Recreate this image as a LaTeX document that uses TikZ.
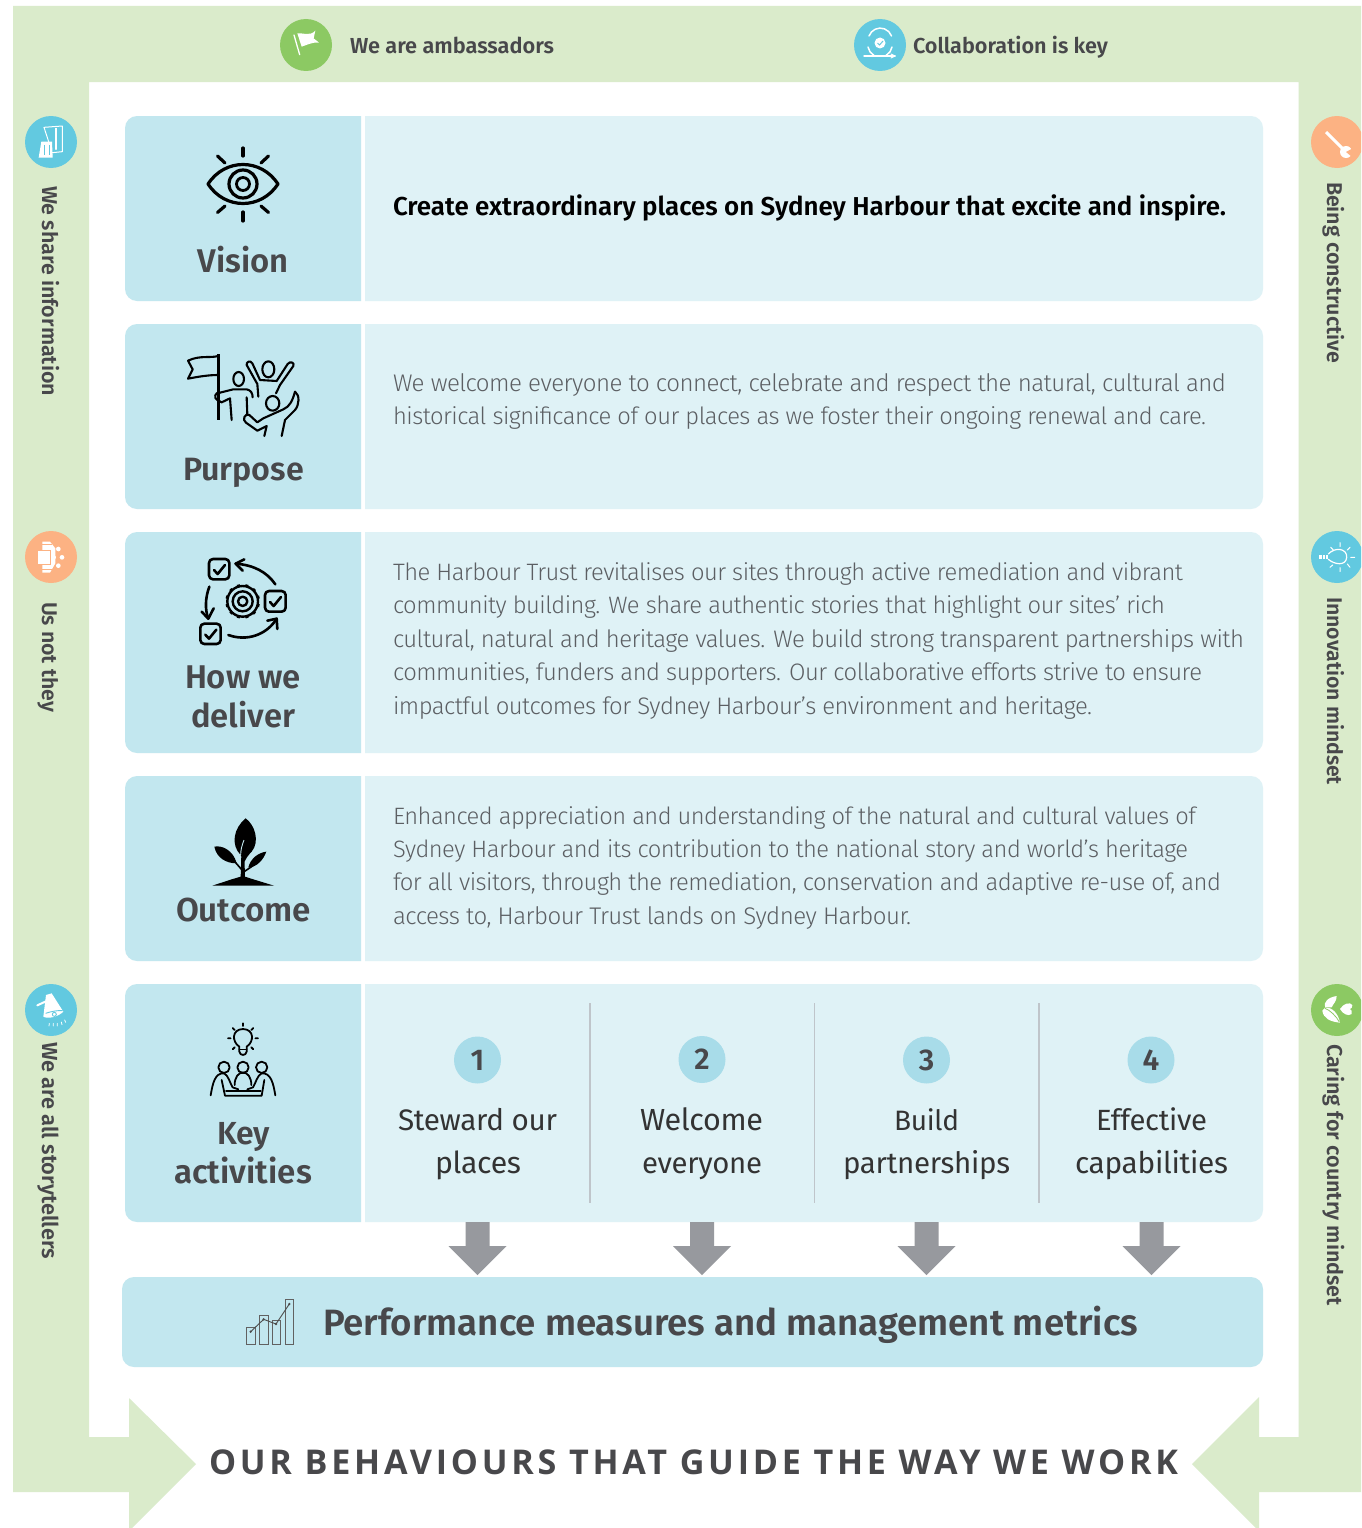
\documentclass[tikz,border=0pt]{standalone}
\usepackage{fontspec}
\usepackage{graphicx}
\setmainfont{Fira Sans}
\newfontfamily\bodyf[UprightFont=* Light,BoldFont=* Medium,LetterSpace=-2.2]{Fira Sans}
\newfontfamily\actf[LetterSpace=-1]{Fira Sans}
\newfontfamily\headf[UprightFont=* Medium,BoldFont=* SemiBold]{Fira Sans}
\newfontfamily\bannerf[LetterSpace=11]{Open Sans}
\definecolor{framegreen}{HTML}{DAEBCB}
\definecolor{carddark}{HTML}{C2E7EF}
\definecolor{cardlight}{HTML}{DFF2F6}
\definecolor{inkgrey}{HTML}{48484B}
\definecolor{bodygrey}{HTML}{5C5F63}
\definecolor{arrowgrey}{HTML}{97999E}
\definecolor{rulegrey}{HTML}{BFC5CA}
\definecolor{numcircle}{HTML}{A8DCE9}
\definecolor{iconblue}{HTML}{62C9E0}
\definecolor{icongreen}{HTML}{8CC963}
\definecolor{iconorange}{HTML}{FCB283}
\newcommand{\fitw}[2]{\resizebox{#1pt}{!}{\strut #2}}
\newcommand{\cardrow}[2]{%
  \fill[carddark] (361,#1) [rounded corners=12pt] -- (125,#1) -- (125,#2) [sharp corners] -- (361,#2) -- cycle;
  \fill[cardlight] (365,#1) [rounded corners=12pt] -- (1263,#1) -- (1263,#2) [sharp corners] -- (365,#2) -- cycle;}
\tikzset{
  txt/.style={inner sep=0pt,outer sep=0pt,anchor=base west},
  bodyline/.style={txt,text=bodygrey,font=\bodyf\fontsize{24}{24}\selectfont},
  headline/.style={txt,text=inkgrey,font=\headf\bfseries\fontsize{30}{30}\selectfont},
  actline/.style={txt,text=black!80,font=\actf\fontsize{28}{28}\selectfont},
  tagline/.style={txt,text=inkgrey,font=\headf\bfseries\fontsize{20}{20}\selectfont},
  numline/.style={inner sep=0pt,text=inkgrey,font=\headf\bfseries\fontsize{30}{30}\selectfont},
  badge/.style={circle,minimum size=52pt,inner sep=0pt,fill=#1},
  z3/.style={shift={(#1)},scale=0.33333},
  ic/.style={draw=black,line width=#1,line cap=round,line join=round},
  ic/.default=2pt,
  wic/.style={draw=white,line width=#1,line cap=round,line join=round},
  wic/.default=1.2pt
}
\begin{document}
\begin{tikzpicture}[x=1pt,y=-1pt]
\clip (0,0) rectangle (1361,1528);
\fill[white] (0,0) rectangle (1361,1528);
% frame with arrows
\fill[framegreen] (13,6) -- (1361,6) -- (1361,1492) -- (1259,1492) -- (1259,1531) -- (1192,1464) -- (1259,1397) -- (1259,1437) -- (1298.5,1437) -- (1298.5,82) -- (89,82) -- (89,1437) -- (129,1437) -- (129,1398) -- (196,1464) -- (129,1531) -- (129,1492) -- (13,1492) -- cycle;
% cards
\cardrow{116}{301}
\cardrow{324}{509}
\cardrow{532}{753}
\cardrow{776}{961}
\cardrow{984}{1222}
\fill[carddark,rounded corners=12pt] (122,1277) rectangle (1263,1367);
% card headings
\node[headline] (hv) at (197.5,272) {\fitw{91}{Vision}};
\node[headline] (hp) at (183,480) {\fitw{121}{Purpose}};
\node[headline] (hh1) at (185,688) {\fitw{116}{How we}};
\node[headline] (hh2) at (191,727) {\fitw{104}{deliver}};
\node[headline] (ho) at (176,921) {\fitw{135}{Outcome}};
\node[headline] (hk1) at (217,1144) {\fitw{53}{Key}};
\node[headline] (hk2) at (174,1183) {\fitw{138}{activities}};
% vision text
\node[txt,text=black,font=\headf\bfseries\fontsize{24}{24}\selectfont] (vt) at (393,215.5) {\fitw{833}{Create extraordinary places on Sydney Harbour that excite and inspire.}};
% purpose text
\node[bodyline] (p1) at (393,391) {\fitw{833}{We welcome everyone to connect, celebrate and respect the natural, cultural and}};
\node[bodyline] (p2) at (393,424) {\fitw{813}{historical significance of our places as we foster their ongoing renewal and care.}};
% how text
\node[bodyline] (h1) at (393,580) {\fitw{790}{The Harbour Trust revitalises our sites through active remediation and vibrant}};
\node[bodyline] (h2) at (393,613.5) {\fitw{772}{community building. We share authentic stories that highlight our sites’ rich}};
\node[bodyline] (h3) at (393,647) {\fitw{851}{cultural, natural and heritage values. We build strong transparent partnerships with}};
\node[bodyline] (h4) at (393,680) {\fitw{809}{communities, funders and supporters. Our collaborative efforts strive to ensure}};
\node[bodyline] (h5) at (393,714) {\fitw{699}{impactful outcomes for Sydney Harbour’s environment and heritage.}};
% outcome text
\node[bodyline] (o1) at (393,824) {\fitw{803}{Enhanced appreciation and understanding of the natural and cultural values of}};
\node[bodyline] (o2) at (393,857) {\fitw{795}{Sydney Harbour and its contribution to the national story and world’s heritage}};
\node[bodyline] (o3) at (393,890) {\fitw{828}{for all visitors, through the remediation, conservation and adaptive re-use of, and}};
\node[bodyline] (o4) at (393,924) {\fitw{518}{access to, Harbour Trust lands on Sydney Harbour.}};
% dividers
\foreach \x in {590,814.5,1039}{\draw[rulegrey,line width=1.5pt] (\x,1003) -- (\x,1203);}
% numbers
\node[circle,minimum size=47pt,inner sep=0pt,fill=numcircle] (n1) at (477.5,1060) {};
\node[circle,minimum size=47pt,inner sep=0pt,fill=numcircle] (n2) at (702,1059.5) {};
\node[circle,minimum size=47pt,inner sep=0pt,fill=numcircle] (n3) at (926.5,1060) {};
\node[circle,minimum size=47pt,inner sep=0pt,fill=numcircle] (n4) at (1151,1060) {};
\node[numline] at (n1) {1};
\node[numline] at (n2) {2};
\node[numline] at (n3) {3};
\node[numline] at (n4) {4};
% activities
\node[actline] (a1) at (398,1130) {\fitw{159}{Steward our}};
\node[actline] (a2) at (435,1173) {\fitw{86}{places}};
\node[actline] (a3) at (640,1130) {\fitw{123}{Welcome}};
\node[actline] (a4) at (642,1173) {\fitw{120}{everyone}};
\node[actline] (a5) at (894,1130) {\fitw{65}{Build}};
\node[actline] (a6) at (843,1173) {\fitw{167}{partnerships}};
\node[actline] (a7) at (1096,1130) {\fitw{111}{Effective}};
\node[actline] (a8) at (1075,1173) {\fitw{153}{capabilities}};
% down arrows
\foreach \x in {477.5,702,926.5,1151.5}{
  \fill[arrowgrey] (\x-12,1222) -- (\x+12,1222) -- (\x+12,1246) -- (\x+29,1246) -- (\x,1275) -- (\x-29,1246) -- (\x-12,1246) -- cycle;}
% metrics
\node[headline] (mt) at (323,1335) {\fitw{815}{Performance measures and management metrics}};
% banner
\node[txt,text=inkgrey,font=\bannerf\bfseries\fontsize{32}{32}\selectfont] (bn) at (209,1474) {\fitw{969}{OUR BEHAVIOURS THAT GUIDE THE WAY WE WORK}};
% top tags
\node[tagline] (t1) at (350,53.5) {\fitw{204}{We are ambassadors}};
\node[tagline] (t2) at (913,53.5) {\fitw{195}{Collaboration is key}};
% side tags
\node[tagline,rotate=-90] (l1) at (42,186) {\fitw{210}{We share information}};
\node[tagline,rotate=-90] (l2) at (42,602) {\fitw{110}{Us not they}};
\node[tagline,rotate=-90] (l3) at (42,1042) {\fitw{217}{We are all storytellers}};
\node[tagline,rotate=-90] (r1) at (1327,182) {\fitw{181}{Being constructive}};
\node[tagline,rotate=-90] (r2) at (1327,597) {\fitw{188}{Innovation mindset}};
\node[tagline,rotate=-90] (r3) at (1327,1044) {\fitw{262}{Caring for country mindset}};
% badges
\node[badge=icongreen] (b1) at (306,45) {};
\node[badge=iconblue] (b2) at (880,45) {};
\node[badge=iconblue] (b3) at (51,142) {};
\node[badge=iconorange] (b4) at (51,557) {};
\node[badge=iconblue] (b5) at (51,1010) {};
\node[badge=iconorange] (b6) at (1337,142) {};
\node[badge=iconblue] (b7) at (1337,557) {};
\node[badge=icongreen] (b8) at (1337,1010) {};
% --- white badge icons
% flag
\begin{scope}[z3={0,0}]
\draw[wic=1.3pt] (882,105) -- (899,164);
\fill[white] (892,100) .. controls (908,98) and (930,110) .. (946,92) -- (941,115) -- (957,128) .. controls (940,125) and (920,135) .. (905,140) -- cycle;
\end{scope}
% collaboration
\draw[wic=1.5pt] (869,36) arc[start angle=-160,end angle=-20,radius=12];
\draw[wic=1.5pt] (892,47) arc[start angle=10,end angle=60,radius=12];
\draw[wic=1.5pt] (868,47) arc[start angle=170,end angle=120,radius=12];
\fill[white] (880,43) circle[radius=5.5];
\draw[iconblue,line width=1pt] (877.5,43) -- (879.5,45) -- (883,41);
\draw[wic=1.5pt] (864,56) -- (895,56);
\draw[wic=1pt] (891,54) -- (895,56) -- (891,58);
% books
\begin{scope}[z3={0,0}]
\draw[wic=1pt] (132,382) -- (187,378) -- (187,455) -- (157,458);
\draw[wic=1pt] (132,382) -- (146,425);
\draw[wic=1.2pt] (168,385) -- (168,448);
\fill[white] (124,425) -- (156,425) -- (158,473) -- (116,473) -- cycle;
\draw[iconblue,line width=1pt] (135,435) -- (135,465) (148,435) -- (148,465);
\end{scope}
% team / stack icon
\begin{scope}[z3={0,520}]
\fill[white] (127,65) -- (150,65) -- (166,85) -- (166,130) -- (150,158) -- (127,158) -- cycle;
\fill[white] (114,92) rectangle (155,132);
\draw[iconorange,line width=0.9pt] (127,74) -- (155,74) (114,90) -- (152,90) (114,134) -- (152,134) (127,148) -- (155,148) (150,92) -- (150,132);
\fill[white] (175,87) circle[radius=7] (186,112) circle[radius=7] (175,137) circle[radius=7] (162,112) circle[radius=6];
\end{scope}
% megaphone
\begin{scope}[z3={0,970}]
\fill[white] (138,75) -- (155,70) -- (190,125) .. controls (175,140) and (145,148) .. (130,140) -- cycle;
\draw[wic=2pt] (112,106) -- (140,93);
\draw[iconblue,line width=0.9pt] (137,130) .. controls (150,125) and (175,120) .. (188,122);
\draw[iconblue,line width=0.9pt] (163,133) circle[radius=6];
\draw[wic=0.8pt] (148,160) -- (147,168) (160,160) -- (160,168) (172,160) -- (172,168) (184,156) -- (186,164) (194,150) -- (197,157);
\end{scope}
% wrench
\draw[wic=3pt,line cap=butt] (1326,132) -- (1345,151);
\fill[white] (1346,152) circle[radius=6];
\fill[iconorange] (1355,147) -- (1346,152) -- (1352,157) -- cycle;
% bulb
\begin{scope}[z3={1290,520}]
\draw[wic=1.2pt] (115,102) .. controls (135,80) and (172,85) .. (170,112) .. controls (168,138) and (135,135) .. (115,118);
\fill[white] (86,104) rectangle (115,118);
\draw[iconblue,line width=0.8pt] (96,104) -- (96,118) (105,104) -- (105,118);
\draw[wic=1pt] (150,68) -- (150,80) (122,82) -- (130,90) (180,82) -- (172,90) (182,112) -- (194,112) (172,132) -- (180,142) (150,143) -- (150,155) (128,135) -- (120,142);
\end{scope}
% leaves
\begin{scope}[z3={1290,970}]
\fill[white] (140,78) .. controls (115,82) and (100,95) .. (105,112) -- (125,112) .. controls (130,100) and (140,95) .. (140,78) -- cycle;
\fill[white] (97,122) .. controls (100,145) and (120,155) .. (150,158) .. controls (145,130) and (125,110) .. (105,113) -- cycle;
\fill[white] (150,117) .. controls (160,100) and (180,95) .. (187,105) .. controls (190,112) and (182,115) .. (180,117) .. controls (182,119) and (190,125) .. (185,132) .. controls (175,140) and (158,132) .. (150,117) -- cycle;
\draw[icongreen,line width=0.8pt] (105,115) .. controls (120,120) and (140,140) .. (148,156);
\end{scope}
% --- black card icons
% eye
\draw[ic=3.2pt] (208,184) .. controls (225,158) and (261,158) .. (278,184) .. controls (261,210) and (225,210) .. (208,184) -- cycle;
\draw[ic=3.2pt] (243,184) circle[radius=14];
\draw[ic=2.8pt] (243,184) circle[radius=6.5];
\draw[ic=3.2pt] (243,148) -- (243,156);
\draw[ic=3.2pt] (243,212) -- (243,221);
\draw[ic=3.2pt] (217.5,156) -- (225,163);
\draw[ic=3.2pt] (268.5,156) -- (261,163);
\draw[ic=3.2pt] (217.5,212.5) -- (225,206);
\draw[ic=3.2pt] (268.5,212.5) -- (261,206);
% purpose people
\begin{scope}[z3={120,110}]
\draw[black,line width=2.6pt] (296,733) -- (296,931);
\draw[ic=2.1pt] (295,738) .. controls (270,745) and (240,735) .. (204,752) -- (218,778) -- (204,806) .. controls (235,800) and (265,795) .. (295,795);
\draw[ic=2.1pt] (356,807) ellipse[x radius=16,y radius=21];
\draw[ic=2.1pt] (300,848) .. controls (285,845) and (280,865) .. (292,870) -- (305,877) -- (330,865) -- (335,930);
\draw[ic=2.1pt] (300,848) -- (340,838) -- (380,838) .. controls (392,840) and (398,850) .. (398,862);
\draw[ic=2.1pt] (380,862) -- (382,915);
\draw[ic=2.1pt] (445,778) ellipse[x radius=18,y radius=24];
\draw[ic=2.1pt] (415,860) -- (412,822) -- (380,765) .. controls (378,755) and (392,750) .. (397,760) -- (420,810) -- (470,813) -- (503,762) .. controls (510,752) and (525,758) .. (520,768) -- (480,825) -- (468,850);
\draw[ic=2.1pt] (458,880) ellipse[x radius=20,y radius=22];
\draw[ic=2.1pt] (525,845) .. controls (540,855) and (538,885) .. (525,900) -- (495,930) -- (485,978);
\draw[ic=2.1pt] (525,845) .. controls (518,870) and (510,890) .. (490,898) -- (430,925) -- (412,937) -- (388,915) .. controls (375,908) and (365,930) .. (378,938) -- (412,962) -- (440,948) -- (433,978);
\end{scope}
% how we deliver
\begin{scope}[z3={120,530}]
\draw[ic=2.6pt,rounded corners=4pt] (267,87) rectangle (328,148);
\draw[ic=2.6pt,rounded corners=4pt] (435,183) rectangle (497,245);
\draw[ic=2.6pt,rounded corners=4pt] (241,281) rectangle (302,342);
\draw[ic=2.6pt] (282,120) -- (293,132) -- (315,105);
\draw[ic=2.6pt] (450,216) -- (461,228) -- (483,201);
\draw[ic=2.6pt] (256,314) -- (267,326) -- (289,299);
\draw[ic=2.4pt] (368,214) circle[radius=46];
\draw[ic=2.4pt] (368,214) circle[radius=30];
\draw[ic=2.4pt] (368,214) circle[radius=14];
\begin{scope}[shift={(368,214)}]
\foreach \a in {15,45,...,345}{\draw[ic=3pt,line cap=butt] (\a:46) -- (\a:52);}
\end{scope}
\draw[ic=2.6pt] (466,163) .. controls (440,125) and (400,105) .. (347,101);
\draw[ic=2.6pt] (373,88) -- (347,101) -- (368,122);
\draw[ic=2.6pt] (268,170) .. controls (255,205) and (255,240) .. (265,266);
\draw[ic=2.6pt] (245,245) -- (265,266) -- (281,235);
\draw[ic=2.6pt] (325,315) .. controls (380,335) and (440,315) .. (470,266);
\draw[ic=2.6pt] (442,272) -- (470,266) -- (472,297);
\end{scope}
% plant
\begin{scope}[z3={120,530}]
\fill[black] (377,865) .. controls (405,885) and (420,935) .. (395,965) .. controls (385,975) and (378,985) .. (374,995) -- (362,975) .. controls (332,945) and (340,895) .. (377,865) -- cycle;
\draw[carddark,line width=0.9pt] (372,930) .. controls (366,945) and (362,960) .. (362,975);
\fill[black] (283,950) .. controls (305,945) and (340,960) .. (350,1000) .. controls (320,1000) and (290,985) .. (283,950) -- cycle;
\fill[black] (439,965) .. controls (430,990) and (410,1012) .. (385,1012) .. controls (392,985) and (415,968) .. (439,965) -- cycle;
\fill[black] (364,975) -- (373,975) -- (375,1040) -- (400,1048) -- (462,1067) -- (277,1067) -- (335,1048) -- (362,1040) -- cycle;
\draw[black,line width=1.6pt] (340,990) -- (366,1020);
\draw[black,line width=1.6pt] (402,1005) -- (374,1024);
\end{scope}
% key activities
\begin{scope}[z3={120,1000}]
\draw[ic=1.8pt] (358,140) .. controls (335,125) and (335,88) .. (369,87) .. controls (403,88) and (403,125) .. (380,140) -- (380,155) .. controls (378,168) and (360,168) .. (358,155) -- cycle;
\draw[ic=1.4pt] (358,148) -- (380,148);
\draw[ic=1.8pt] (369,70) -- (369,78) (338,84) -- (344,90) (400,84) -- (394,90) (324,115) -- (332,115) (406,115) -- (414,115) (338,148) -- (344,142) (400,148) -- (394,142);
\draw[ic=1.8pt] (312,202) circle[radius=17];
\draw[ic=1.8pt] (369,202) circle[radius=17];
\draw[ic=1.8pt] (425,202) circle[radius=17];
\draw[ic=1.8pt] (272,286) .. controls (278,250) and (285,218) .. (312,220) .. controls (325,225) and (330,250) .. (338,262) -- (355,268);
\draw[ic=1.8pt] (466,286) .. controls (460,250) and (453,218) .. (425,220) .. controls (412,225) and (407,250) .. (399,262) -- (382,268);
\draw[ic=1.8pt] (344,255) .. controls (344,205) and (394,205) .. (394,255);
\draw[ic=1.8pt] (305,240) -- (315,287) -- (425,287) -- (433,240);
\draw[ic=1.8pt] (318,272) -- (422,272);
\end{scope}
% chart
\begin{scope}[z3={120,1000}]
\draw[black!62,line width=1pt] (380,982) rectangle (405,1032);
\draw[black!62,line width=1pt] (418,945) rectangle (444,1032);
\draw[black!62,line width=1pt] (458,960) rectangle (482,1032);
\draw[black!62,line width=1pt] (496,898) rectangle (521,1032);
\draw[black!70,line width=0.9pt] (392,995) -- (431,958) -- (468,972) -- (508,912);
\fill[black!70] (392,995) circle[radius=4] (431,958) circle[radius=4] (468,972) circle[radius=4] (508,912) circle[radius=4];
\end{scope}
\end{tikzpicture}
\end{document}
